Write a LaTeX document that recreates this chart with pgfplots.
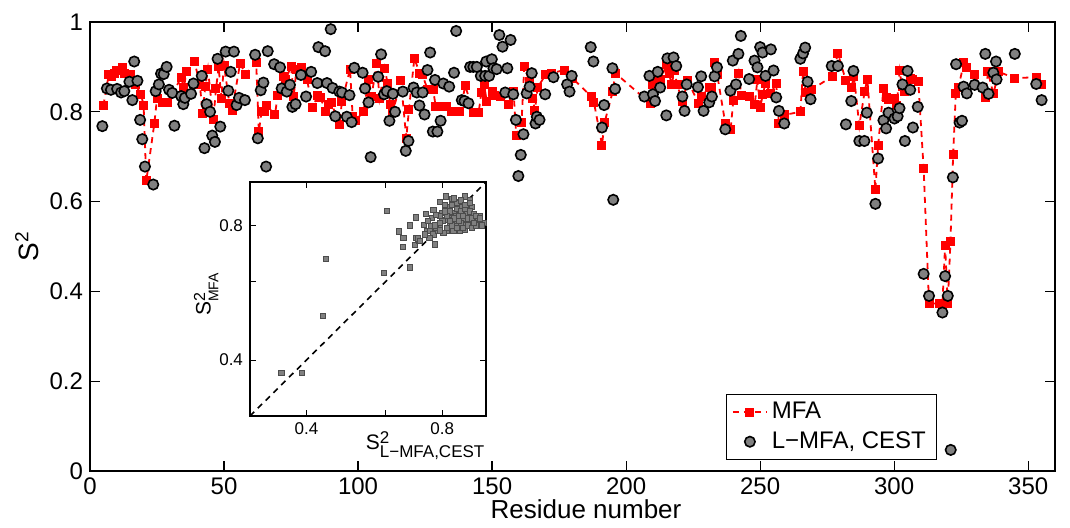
\documentclass[border=0pt]{standalone}
\usepackage{pgfplots}
\pgfplotsset{compat=1.18}
\usepackage{pgfplotstable}
\usepackage{fontspec}
\setmainfont{Liberation Sans}
\pgfplotsset{/pgf/number format/assume math mode=true}

\pgfplotstableread{
x y
5 0.814
7 0.883
8 0.878
9 0.886
10 0.891
12 0.899
13 0.886
15 0.883
17 0.860
19 0.839
20 0.815
21 0.646
24 0.774
25 0.830
27 0.821
29 0.821
34 0.876
35 0.854
36 0.889
39 0.912
41 0.860
42 0.797
43 0.856
44 0.895
46 0.782
47 0.851
48 0.900
49 0.830
50 0.904
52 0.819
53 0.804
56 0.908
58 0.884
62 0.909
63 0.756
64 0.800
65 0.800
66 0.815
69 0.793
70 0.836
72 0.878
73 0.871
75 0.902
76 0.834
77 0.894
79 0.898
81 0.871
83 0.809
85 0.837
86 0.831
88 0.800
89 0.817
90 0.821
93 0.771
94 0.823
97 0.895
98 0.789
99 0.780
102 0.800
104 0.873
105 0.834
107 0.908
108 0.830
110 0.897
111 0.863
112 0.817
113 0.800
116 0.869
118 0.741
119 0.806
121 0.919
123 0.886
124 0.882
126 0.849
128 0.849
129 0.811
131 0.811
133 0.811
135 0.800
138 0.800
140 0.858
143 0.799
145 0.799
146 0.843
147 0.861
148 0.824
150 0.846
151 0.837
153 0.834
156 0.817
158 0.846
159 0.748
161 0.777
162 0.900
164 0.867
165 0.830
166 0.804
167 0.854
170 0.883
172 0.886
177 0.893
180 0.875
187 0.834
188 0.821
191 0.726
192 0.777
195 0.845
196 0.886
209 0.819
210 0.860
211 0.875
213 0.871
215 0.906
216 0.886
217 0.860
218 0.893
219 0.861
221 0.823
223 0.869
227 0.819
228 0.834
231 0.854
232 0.854
233 0.909
234 0.882
237 0.774
239 0.761
240 0.826
242 0.886
243 0.836
246 0.835
248 0.817
249 0.873
250 0.809
251 0.839
252 0.863
254 0.841
256 0.863
257 0.774
259 0.793
265 0.800
266 0.889
267 0.843
269 0.849
277 0.879
279 0.930
282 0.869
284 0.854
285 0.879
287 0.769
289 0.846
290 0.873
293 0.626
294 0.724
296 0.851
297 0.831
298 0.828
300 0.830
301 0.815
302 0.891
303 0.856
304 0.846
306 0.875
307 0.871
309 0.867
311 0.673
313 0.373
317 0.373
318 0.373
319 0.502
320 0.373
321 0.511
322 0.705
323 0.841
324 0.855
326 0.909
327 0.898
330 0.882
334 0.831
335 0.889
337 0.840
339 0.889
345 0.875
353 0.877
355 0.860
}\mfa

\pgfplotstableread{
x y
4.6 0.768
6.3 0.852
7.8 0.849
10.1 0.851
11.6 0.843
12.8 0.846
14.7 0.867
15.8 0.826
16.5 0.912
17.7 0.869
18.7 0.782
19.5 0.739
20.5 0.678
23.6 0.638
24.5 0.846
25.7 0.861
26.5 0.885
27.5 0.884
28.6 0.900
29.5 0.849
30.7 0.842
31.5 0.769
34.0 0.835
34.8 0.817
35.4 0.831
37.7 0.840
38.6 0.863
41.7 0.880
42.7 0.719
43.5 0.817
44.8 0.800
45.6 0.747
46.6 0.733
47.6 0.918
48.6 0.767
50.6 0.934
51.6 0.847
52.5 0.889
53.7 0.934
54.7 0.815
55.6 0.831
57.8 0.826
61.6 0.927
62.6 0.741
63.7 0.848
64.7 0.865
65.7 0.678
66.3 0.935
68.7 0.906
70.9 0.899
71.5 0.852
73.4 0.845
74.6 0.860
75.5 0.811
76.7 0.817
78.7 0.882
80.6 0.834
82.5 0.889
84.8 0.864
85.2 0.944
87.7 0.935
88.4 0.864
89.8 0.984
90.5 0.853
91.5 0.790
93.0 0.845
94.0 0.843
95.8 0.789
96.8 0.837
97.6 0.777
98.6 0.898
101.7 0.887
102.6 0.852
103.9 0.821
104.7 0.699
107.5 0.878
108.6 0.928
109.7 0.839
110.7 0.846
111.7 0.780
113.0 0.840
113.8 0.800
116.7 0.845
117.8 0.713
118.8 0.735
120.7 0.854
121.9 0.843
122.9 0.814
124.1 0.843
124.8 0.794
125.9 0.893
126.9 0.932
127.9 0.756
128.7 0.871
129.6 0.756
130.8 0.780
131.8 0.863
134.0 0.856
135.8 0.887
136.6 0.980
138.7 0.826
139.7 0.824
141.2 0.819
141.8 0.900
143.0 0.900
144.3 0.900
145.8 0.880
147.4 0.880
147.8 0.912
148.9 0.880
149.9 0.917
150.5 0.897
151.7 0.895
152.7 0.971
153.9 0.945
154.9 0.843
155.7 0.897
156.9 0.960
157.9 0.839
158.9 0.782
159.8 0.657
160.7 0.704
161.7 0.750
162.9 0.841
164.0 0.856
164.8 0.886
166.2 0.774
166.7 0.789
167.7 0.782
169.8 0.839
172.9 0.877
178.0 0.861
178.9 0.845
179.7 0.880
186.8 0.944
187.8 0.912
191.0 0.765
191.8 0.815
194.9 0.897
195.2 0.604
195.9 0.851
206.8 0.834
208.7 0.880
210.0 0.839
210.8 0.824
211.8 0.889
212.7 0.854
215.0 0.792
215.4 0.919
217.7 0.921
218.7 0.902
221.0 0.834
221.8 0.802
222.6 0.861
226.8 0.855
228.0 0.879
228.9 0.802
231.0 0.821
232.0 0.834
233.0 0.879
233.9 0.899
237.0 0.761
238.9 0.847
239.8 0.914
241.0 0.861
241.9 0.929
242.8 0.969
245.9 0.873
247.9 0.914
249.0 0.899
250.0 0.944
250.9 0.932
252.0 0.880
254.0 0.939
255.0 0.892
256.0 0.832
257.0 0.802
259.0 0.774
265.0 0.918
266.0 0.930
266.8 0.943
267.7 0.867
268.8 0.828
276.7 0.902
279.0 0.902
282.0 0.772
284.0 0.824
284.8 0.891
287.0 0.735
288.9 0.735
289.8 0.798
293.0 0.595
294.0 0.696
296.0 0.781
297.0 0.763
297.9 0.798
300.1 0.785
301.3 0.790
302.0 0.808
303.1 0.861
304.0 0.735
305.0 0.891
306.0 0.849
307.0 0.765
308.8 0.811
311.0 0.439
313.0 0.390
318.0 0.353
319.0 0.434
320.0 0.390
321.1 0.047
321.9 0.654
323.1 0.906
324.4 0.776
325.3 0.780
325.9 0.856
327.1 0.841
330.0 0.860
333.0 0.854
334.0 0.929
335.2 0.840
337.0 0.887
338.0 0.912
338.2 0.872
345.0 0.929
353.0 0.862
355.0 0.826
}\cest

\pgfplotstableread{
x y
0.352 0.374
0.391 0.374
0.435 0.503
0.441 0.673
0.594 0.627
0.603 0.861
0.640 0.776
0.656 0.750
0.654 0.717
0.679 0.800
0.679 0.645
0.698 0.832
0.696 0.724
0.700 0.750
0.710 0.740
0.700 0.834
0.705 0.749
0.714 0.739
0.736 0.849
0.727 0.804
0.739 0.777
0.752 0.777
0.764 0.867
0.758 0.832
0.742 0.818
0.764 0.764
0.791 0.804
0.784 0.777
0.775 0.791
0.791 0.905
0.815 0.929
0.839 0.918
0.868 0.905
0.898 0.929
0.921 0.913
0.929 0.882
0.906 0.890
0.883 0.882
0.854 0.890
0.832 0.882
0.811 0.875
0.798 0.853
0.825 0.846
0.846 0.853
0.875 0.853
0.906 0.853
0.929 0.846
0.966 0.839
0.977 0.811
0.949 0.811
0.921 0.804
0.890 0.804
0.861 0.804
0.832 0.811
0.811 0.825
0.791 0.839
0.818 0.777
0.846 0.777
0.875 0.777
0.898 0.784
0.804 0.771
0.771 0.726
0.749 0.751
0.733 0.764
0.846 0.820
0.890 0.829
0.945 0.825
0.775 0.846
0.754 0.797
0.858 0.839
0.878 0.791
0.83 0.86
0.86 0.87
0.88 0.86
0.90 0.87
0.92 0.86
0.94 0.85
0.85 0.83
0.87 0.84
0.89 0.84
0.91 0.83
0.93 0.83
0.95 0.84
0.96 0.82
0.99 0.81
0.98 0.80
0.82 0.84
0.80 0.82
0.84 0.80
0.86 0.79
0.88 0.81
0.91 0.80
0.93 0.79
0.95 0.80
0.86 0.90
0.88 0.91
0.84 0.89
0.81 0.89
0.90 0.89
0.92 0.90
0.82 0.79
0.79 0.81
0.97 0.83
0.94 0.81
0.87 0.82
0.83 0.82
0.89 0.79
0.85 0.92
0.81 0.86
0.77 0.80
0.79 0.78
}\inset

\begin{document}
\begin{tikzpicture}
\useasboundingbox (-45pt,-28pt) rectangle (490pt,235.5pt);
\begin{axis}[
  name=main, at={(0,0)}, anchor=south west,
  scale only axis, width=482.5pt, height=224.5pt,
  xmin=0, xmax=360, ymin=0, ymax=1,
  xtick={0,50,...,350}, ytick={0,0.2,0.4,0.6,0.8,1},
  tick align=inside, major tick length=5pt,
  axis line style={line width=0.7pt},
  every tick/.style={black, line width=0.6pt},
  tick label style={font=\fontsize{12}{14}\selectfont},
  xlabel={\fontsize{13}{15}\selectfont Residue number},
  xlabel style={at={(axis description cs:0.514,0)}, anchor=north, inner sep=0pt, yshift=-14pt},
  ylabel={\fontsize{14}{16}\selectfont S\raisebox{5pt}{\fontsize{9.5}{10}\selectfont 2}},
  ylabel style={at={(axis description cs:-0.0653,0.5)}, anchor=center},
  legend style={at={(rel axis cs:0.877,0.0245)}, anchor=south east, draw=black,
    font=\fontsize{12}{14}\selectfont, inner xsep=3pt, inner ysep=2pt, row sep=1pt,
    cells={anchor=west}},
]
\addplot[red, line width=0.9pt, dash pattern=on 3pt off 2.5pt, mark=square*, mark size=2pt,
  mark options={solid, fill=red, draw=red, line width=0pt}] table {\mfa};
\addlegendentry{MFA}
\addplot[only marks, mark=*, mark size=2.6pt,
  mark options={fill=black!50, draw=black, line width=0.8pt}] table {\cest};
\addlegendentry{L−MFA, CEST}
\end{axis}
\begin{axis}[
  at={(80pt,27.5pt)}, anchor=south west,
  scale only axis, width=118pt, height=117pt,
  xmode=log, ymode=log,
  xmin=0.3, xmax=1, ymin=0.3, ymax=1,
  xtick={0.4,0.6,0.8}, xticklabels={0.4,,0.8},
  ytick={0.4,0.6,0.8}, yticklabels={0.4,,0.8},
  minor tick length=0pt,
  tick align=inside, major tick length=3pt,
  axis background/.style={fill=white},
  axis line style={line width=0.7pt},
  every tick/.style={black, line width=0.5pt},
  tick label style={font=\fontsize{8.5}{10}\selectfont},
  xlabel={\fontsize{10.5}{12}\selectfont S\rlap{\raisebox{2.8pt}{\fontsize{8.5}{9}\selectfont 2}}\raisebox{-3.8pt}{\fontsize{8.5}{9}\selectfont L−MFA,CEST}},
  xlabel style={at={(axis description cs:0.742,0)}, anchor=north, inner sep=0pt, yshift=-7.8pt},
  ylabel={\fontsize{10.5}{12}\selectfont S\rlap{\raisebox{2.8pt}{\fontsize{8}{9}\selectfont 2}}\raisebox{-3.8pt}{\fontsize{7}{8}\selectfont MFA}},
  ylabel style={at={(axis description cs:-0.186,0.52)}, anchor=center},
]
\addplot[black, line width=0.8pt, dash pattern=on 3pt off 2.5pt] coordinates {(0.3,0.3) (1,1)};
\addplot[only marks, mark=square*, mark size=1.3pt,
  mark options={fill=black!50, draw=black!70, line width=0.3pt}] table {\inset};
\end{axis}
\end{tikzpicture}
\end{document}
